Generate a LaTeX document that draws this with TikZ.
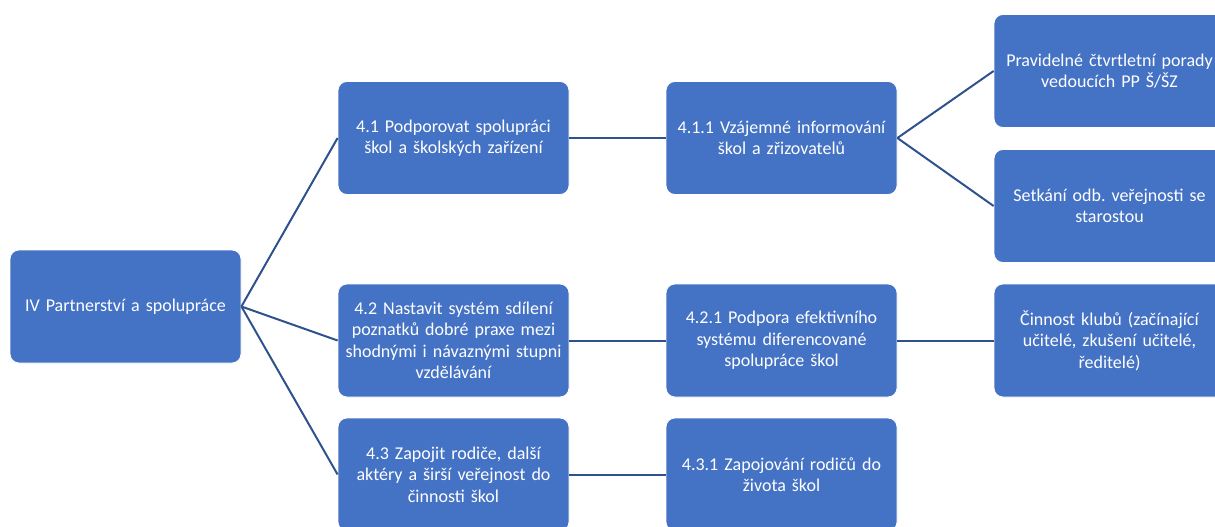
\documentclass[tikz,border=0pt]{standalone}
\usepackage{fontspec}
\setmainfont{Carlito}
\usetikzlibrary{positioning}
\definecolor{boxblue}{HTML}{4472C4}
\definecolor{lineblue}{HTML}{2F528F}
\tikzset{
	goalbox/.style={draw=white, line width=0.8pt, fill=boxblue, rounded corners=9pt,
		minimum width=231pt, minimum height=113pt, text width=224pt, align=center,
		text=white, inner sep=0pt, font=\fontsize{18}{21.5}\selectfont\frenchspacing},
	link/.style={draw=lineblue, line width=2pt}
}
\begin{document}
\begin{tikzpicture}[x=1pt,y=-1pt]
				%%%%% START %%%%%
				\def\xroot{125.5}
				\def\xone{453.5}
				\def\xtwo{781.5}
				\def\xthree{1109.5}
				\def\yroot{306.5}
				\def\ya{138}
				\def\yb{340.5}
				\def\yc{474.5}
				
				\useasboundingbox (0,0) rectangle (1215,527);
				\clip (0,0) rectangle (1215,527);
				
				\node[goalbox] (root) at (\xroot,\yroot) {IV Partnerství a spolupráce};
				
				\node[goalbox] (g41) at (\xone,\ya) {4.1 Podporovat spolupráci\\ škol a školských zařízení};
				\node[goalbox] (g42) at (\xone,\yb) {4.2 Nastavit systém sdílení\\ poznatků dobré praxe mezi\\ shodnými i návaznými stupni\\ vzdělávání};
				\node[goalbox] (g43) at (\xone,\yc) {4.3 Zapojit rodiče, další\\ aktéry a širší veřejnost do\\ činnosti škol};
				
				\node[goalbox] (m411) at (\xtwo,\ya) {4.1.1 Vzájemné informování\\ škol a zřizovatelů};
				\node[goalbox] (m421) at (\xtwo,\yb) {4.2.1 Podpora efektivního\\ systému diferencované\\ spolupráce škol};
				\node[goalbox] (m431) at (\xtwo,\yc) {4.3.1 Zapojování rodičů do\\ života škol};
				
				\node[goalbox] (a1) at (\xthree,71) {Pravidelné čtvrtletní porady\\ vedoucích PP Š/ŠZ};
				\node[goalbox] (a2) at (\xthree,206) {Setkání odb. veřejnosti se\\ starostou};
				\node[goalbox] (a3) at (\xthree,\yb) {Činnost klubů (začínající\\ učitelé, zkušení učitelé,\\ ředitelé)};
				
				\draw[link] (root.east) -- (g41.west);
				\draw[link] (root.east) -- (g42.west);
				\draw[link] (root.east) -- (g43.west);
				\draw[link] (g41) -- (m411);
				\draw[link] (g42) -- (m421);
				\draw[link] (g43) -- (m431);
				\draw[link] (m411.east) -- (a1.west);
				\draw[link] (m411.east) -- (a2.west);
				\draw[link] (m421) -- (a3);
				%%%%% END %%%%%
\end{tikzpicture}
\end{document}
